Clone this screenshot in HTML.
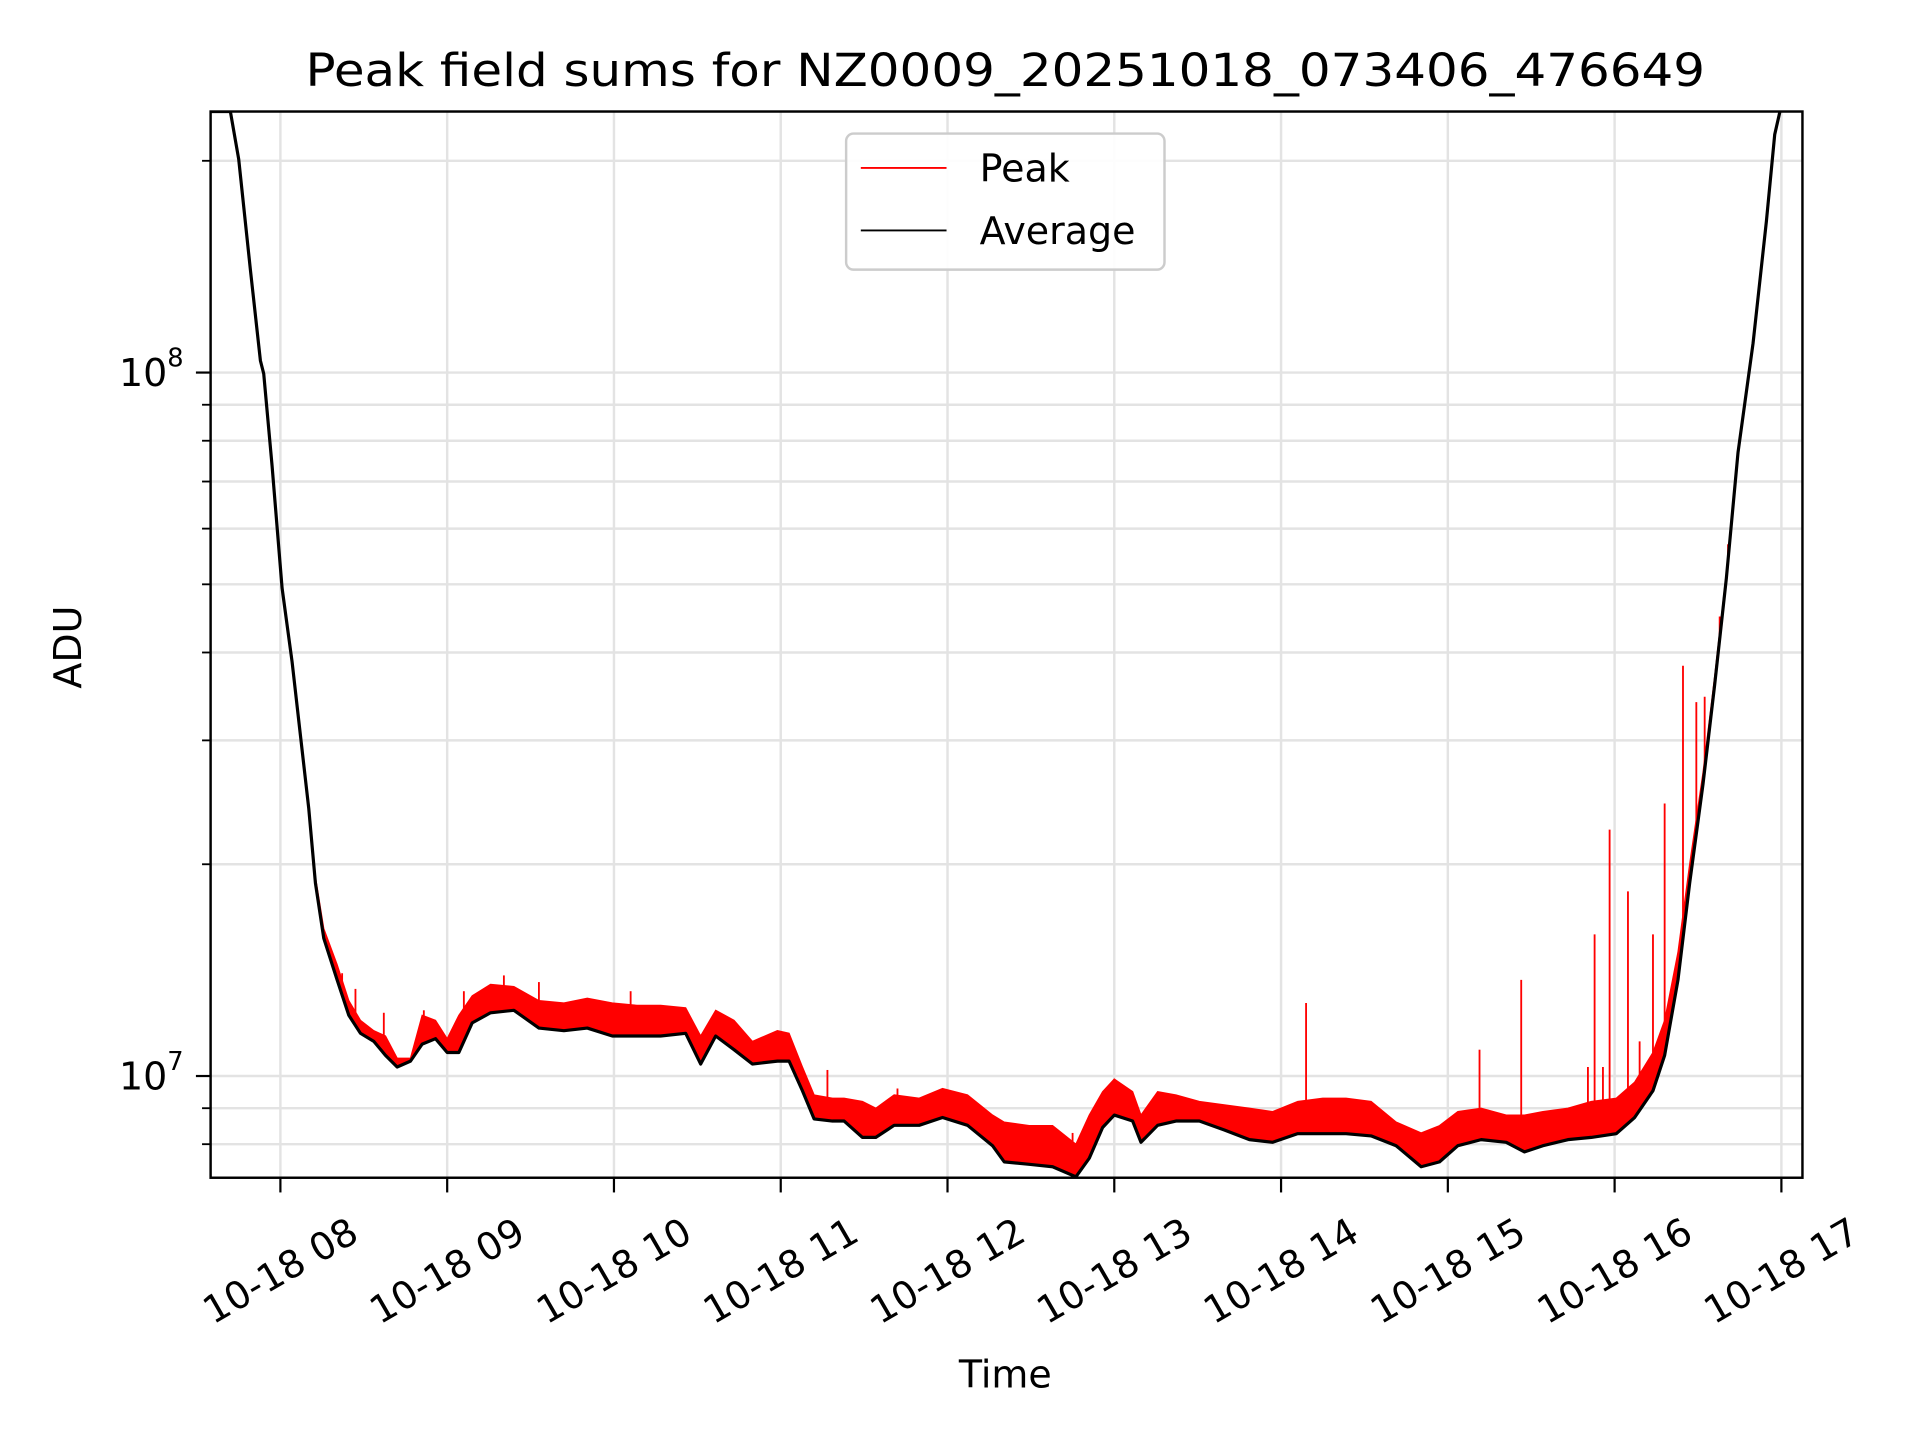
<!DOCTYPE html>
<html><head><meta charset="utf-8"><style>
html,body{margin:0;padding:0;background:#fff;}
svg{display:block;font-family:"DejaVu Sans","Liberation Sans",sans-serif;}
</style></head><body>
<svg id="chart" width="1920" height="1440" viewBox="0 0 1568 1175" preserveAspectRatio="none" xmlns="http://www.w3.org/2000/svg">
<rect x="0" y="0" width="1568" height="1175" fill="#fff"/>
<text x="821" y="70" font-size="37" text-anchor="middle" textLength="1143" lengthAdjust="spacingAndGlyphs">Peak field sums for NZ0009_20251018_073406_476649</text>
<g id="grid"></g>
<g id="plot"></g>
<rect x="172" y="91" width="1300" height="870" fill="none" stroke="#000" stroke-width="2"/>
<g id="ticks"></g>
<text x="0" y="0" font-size="31" text-anchor="middle" transform="translate(66,528) rotate(-90)">ADU</text>
<text x="821" y="1132" font-size="31" text-anchor="middle">Time</text>
<g>
<rect x="691" y="109" width="260" height="111" rx="6" fill="#fff" fill-opacity="0.9" stroke="#ccc" stroke-width="2"/>
<line x1="703" y1="137" x2="773" y2="137" stroke="#f00" stroke-width="1.5"/>
<text x="800" y="148" font-size="31">Peak</text>
<line x1="703" y1="188" x2="773" y2="188" stroke="#000" stroke-width="1.5"/>
<text x="800" y="199" font-size="31">Average</text>
</g>
</svg>
<script>
// data (hours of 2025-10-18, values in millions of ADU)
const avgTimes=[7.58,7.70,7.75,7.82,7.88,7.90,7.95,8.01,8.07,8.12,8.17,8.21,8.26,8.34,8.41,8.48,8.56,8.63,8.70,8.78,8.85,8.93,9.00,9.07,9.15,9.26,9.40,9.55,9.70,9.84,9.99,10.14,10.28,10.43,10.52,10.61,10.72,10.83,10.98,11.05,11.13,11.20,11.31,11.38,11.49,11.57,11.68,11.83,11.97,12.12,12.27,12.34,12.49,12.63,12.77,12.85,12.93,13.00,13.11,13.16,13.26,13.37,13.51,13.66,13.81,13.95,14.10,14.25,14.39,14.54,14.69,14.84,14.95,15.06,15.20,15.35,15.46,15.57,15.72,15.86,16.01,16.12,16.23,16.30,16.38,16.45,16.53,16.60,16.67,16.74,16.83,16.91,16.96,17.00];
const avgValues=[235,235,201,140,104,99.6,73.7,49.4,38.8,30.5,24.0,18.8,15.7,13.7,12.2,11.5,11.2,10.7,10.3,10.5,11.1,11.3,10.8,10.8,11.9,12.3,12.4,11.7,11.6,11.7,11.4,11.4,11.4,11.5,10.4,11.4,10.9,10.4,10.5,10.5,9.53,8.69,8.63,8.63,8.18,8.18,8.51,8.51,8.73,8.51,7.96,7.55,7.49,7.43,7.19,7.64,8.45,8.80,8.63,8.05,8.51,8.63,8.63,8.38,8.12,8.05,8.28,8.28,8.28,8.22,7.96,7.43,7.55,7.96,8.12,8.05,7.80,7.96,8.12,8.18,8.28,8.73,9.53,10.7,13.7,18.8,26,36,51,77,110,164,218,240];
const peakEnvValues=[235,235,201,140,104,99.6,73.7,49.4,39.5,30.5,24.5,19.2,16.2,14.4,12.8,12.0,11.6,11.4,10.6,10.6,12.2,12.0,11.3,12.2,13.0,13.5,13.4,12.8,12.7,12.9,12.7,12.6,12.6,12.5,11.4,12.4,12.0,11.2,11.6,11.5,10.3,9.4,9.3,9.3,9.2,9.0,9.4,9.3,9.6,9.4,8.8,8.6,8.5,8.5,8.0,8.8,9.5,9.9,9.5,8.8,9.5,9.4,9.2,9.1,9.0,8.9,9.2,9.3,9.3,9.2,8.6,8.3,8.5,8.9,9.0,8.8,8.8,8.9,9.0,9.2,9.3,9.8,10.8,12,15,20,27,37,52,78,110,164,218,240];
const spikeTimes=[8.37,8.45,8.62,8.86,9.10,9.34,9.55,10.10,11.28,11.70,12.75,13.00,14.15,15.19,15.44,15.84,15.88,15.93,15.97,16.08,16.15,16.23,16.30,16.41,16.49,16.54,16.63,16.68];
const spikeValues=[14.0,13.3,12.3,12.4,13.2,13.9,13.6,13.2,10.2,9.6,8.3,9.9,12.7,10.9,13.7,10.3,15.9,10.3,22.4,18.3,11.2,15.9,24.4,38.3,34.0,34.6,45,57];
const xTickHours=[8,9,10,11,12,13,14,15,16,17];
const xTickLabels=["10-18 08","10-18 09","10-18 10","10-18 11","10-18 12","10-18 13","10-18 14","10-18 15","10-18 16","10-18 17"];
const yMajorValues=[10,100];
const yMajorExps=["7","8"];
const yMinorValues=[8,9,20,30,40,50,60,70,80,90,200];

const NS="http://www.w3.org/2000/svg";
const L=172,R=1472,T=91,B=961;
function xScale(h){return 229+(h-8)*136.2;}
function yScale(v){return 878-(Math.log10(v)-1)*574;}
function mk(tag,attrs,parent){const e=document.createElementNS(NS,tag);for(const k in attrs)e.setAttribute(k,attrs[k]);parent.appendChild(e);return e;}
function interp(t){for(let i=1;i<avgTimes.length;i++){if(t<=avgTimes[i]){const f=(t-avgTimes[i-1])/(avgTimes[i]-avgTimes[i-1]);return avgValues[i-1]*Math.pow(avgValues[i]/avgValues[i-1],f);}}return avgValues[avgValues.length-1];}
const grid=document.getElementById('grid'),plot=document.getElementById('plot'),ticks=document.getElementById('ticks');
const clip=mk('clipPath',{id:'pc'},mk('defs',{},document.getElementById('chart')));
mk('rect',{x:L,y:T,width:R-L,height:B-T},clip);
plot.setAttribute('clip-path','url(#pc)');
yMinorValues.concat(yMajorValues).forEach(v=>{const y=yScale(v);if(y<T||y>B)return;
 const g=mk('line',{x1:L,x2:R,y1:y,y2:y,stroke:'#e3e3e3','stroke-width':2},grid);
 
 });
yMinorValues.forEach(v=>{const y=yScale(v);if(y<T||y>B)return;
 const t=mk('line',{x1:L-7,x2:L,y1:y,y2:y,stroke:'#000','stroke-width':1.5},ticks);
 
 });
yMajorValues.forEach((v,i)=>{const y=yScale(v);
 const t=mk('line',{x1:L-12,x2:L,y1:y,y2:y,stroke:'#000','stroke-width':1.8},ticks);
 
 
 const tx=mk('text',{x:L-22,y:y+11,'font-size':31,'text-anchor':'end'},ticks);
 
 
 tx.textContent='10';
 const sp=mk('tspan',{dy:-16,'font-size':21},tx);sp.textContent=yMajorExps[i];});
xTickHours.forEach((h,i)=>{const x=xScale(h);
 const g=mk('line',{x1:x,x2:x,y1:T,y2:B,stroke:'#e3e3e3','stroke-width':2},grid);
 
 
 const t=mk('line',{x1:x,x2:x,y1:B,y2:B+12,stroke:'#000','stroke-width':1.8},ticks);
 
 
 const tx=mk('text',{x:0,y:0,'font-size':31,'text-anchor':'middle','dominant-baseline':'central',transform:`translate(${x},${B+76}) rotate(-30)`},ticks);
 
 
 tx.textContent=xTickLabels[i];});
let pts=avgTimes.map((t,i)=>xScale(t)+','+yScale(peakEnvValues[i]));
let back=avgTimes.map((t,i)=>xScale(t)+','+yScale(avgValues[i])).reverse();
const band=mk('polygon',{points:pts.concat(back).join(' '),fill:'#f00',stroke:'#f00','stroke-width':1},plot);


spikeTimes.forEach((t,i)=>{const x=xScale(t);
 const s=mk('line',{x1:x,x2:x,y1:yScale(interp(t)),y2:yScale(spikeValues[i]),stroke:'#f00','stroke-width':1.5},plot);
 
 });
const avg=mk('polyline',{points:avgTimes.map((t,i)=>xScale(t)+','+yScale(avgValues[i])).join(' '),fill:'none',stroke:'#000','stroke-width':2.6,'stroke-linejoin':'round'},plot);


</script>
</body></html>
